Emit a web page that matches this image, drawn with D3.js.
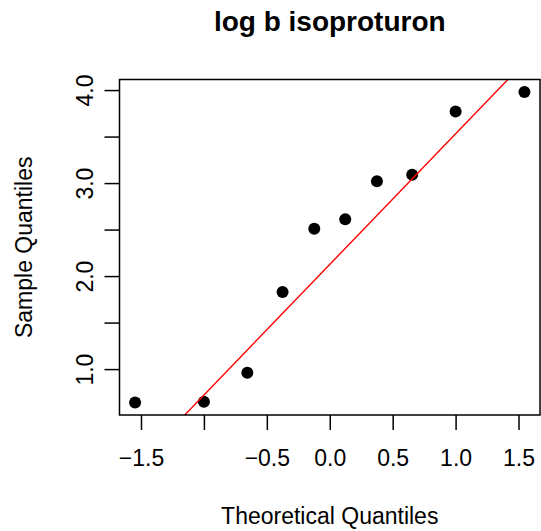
<!DOCTYPE html>
<html>
<head>
<meta charset="utf-8">
<script src="https://cdn.jsdelivr.net/npm/d3@7"></script>
<style>
  html, body { margin: 0; padding: 0; background: #fff; }
  svg text { font-family: "Liberation Sans", Arial, Helvetica, sans-serif; fill: #000; }
</style>
</head>
<body>
<svg id="chart" width="541" height="531"></svg>
<script>
// Data (normal Q-Q plot, n = 10)
const theoretical = [-1.547, -1.000, -0.655, -0.375, -0.123, 0.123, 0.375, 0.655, 1.000, 1.547];
const sample      = [0.64, 0.65, 0.96, 1.83, 2.51, 2.61, 3.02, 3.09, 3.77, 3.98];

const xTickValues = [-1.5, -1.0, -0.5, 0.0, 0.5, 1.0, 1.5];
const xTickLabels = ["\u22121.5", "", "\u22120.5", "0.0", "0.5", "1.0", "1.5"];
const yTickValues = [1.0, 1.5, 2.0, 2.5, 3.0, 3.5, 4.0];
const yTickLabels = ["1.0", "", "2.0", "", "3.0", "", "4.0"];

const titleText = "log b isoproturon";
const xLabelText = "Theoretical Quantiles";
const yLabelText = "Sample Quantiles";

const svg = d3.select("#chart");
const plot = { left: 119.5, right: 540, top: 79.5, bottom: 415 };

// R-style 4% range extension
function extend(ext) {
  const d = (ext[1] - ext[0]) * 0.04;
  return [ext[0] - d, ext[1] + d];
}
const x = d3.scaleLinear().domain(extend(d3.extent(theoretical))).range([plot.left, plot.right]);
const y = d3.scaleLinear().domain(extend(d3.extent(sample))).range([plot.bottom, plot.top]);

// qqline through the quartiles
const sorted = sample.slice().sort(d3.ascending);
const yq1 = d3.quantileSorted(sorted, 0.25), yq3 = d3.quantileSorted(sorted, 0.75);
const xq1 = -0.6744898, xq3 = 0.6744898;
const slope = (yq3 - yq1) / (xq3 - xq1);
const intercept = yq1 - slope * xq1;

// clip for the line
svg.append("clipPath").attr("id", "clip")
  .append("rect")
  .attr("x", plot.left).attr("y", plot.top)
  .attr("width", plot.right - plot.left).attr("height", plot.bottom - plot.top);

// points
svg.append("g").selectAll("circle")
  .data(theoretical.map((t, i) => ({ t, s: sample[i] })))
  .join("circle")
  .attr("cx", d => x(d.t))
  .attr("cy", d => y(d.s))
  .attr("r", 6)
  .attr("fill", "#000");

// reference line
const xd = x.domain();
svg.append("line")
  .attr("clip-path", "url(#clip)")
  .attr("x1", x(xd[0])).attr("y1", y(intercept + slope * xd[0]))
  .attr("x2", x(xd[1])).attr("y2", y(intercept + slope * xd[1]))
  .attr("stroke", "red").attr("stroke-width", 1.4);

// box
svg.append("rect")
  .attr("x", plot.left).attr("y", plot.top)
  .attr("width", plot.right - plot.left).attr("height", plot.bottom - plot.top)
  .attr("fill", "none").attr("stroke", "#000").attr("stroke-width", 1.5);

// x axis
const xAxis = d3.axisBottom(x)
  .tickValues(xTickValues)
  .tickSize(15)
  .tickPadding(20)
  .tickFormat((d, i) => xTickLabels[i]);
const gx = svg.append("g").attr("transform", `translate(0,${plot.bottom})`).call(xAxis);
gx.select(".domain").remove();
gx.selectAll(".tick line").attr("stroke", "#000").attr("stroke-width", 1.5);
gx.selectAll(".tick text").style("font-size", "23px").attr("fill", "#000");

// y axis
const yAxis = d3.axisLeft(y)
  .tickValues(yTickValues)
  .tickSize(15)
  .tickPadding(0)
  .tickFormat((d, i) => yTickLabels[i]);
const gy = svg.append("g").attr("transform", `translate(${plot.left},0)`).call(yAxis);
gy.select(".domain").remove();
gy.selectAll(".tick line").attr("stroke", "#000").attr("stroke-width", 1.5);
gy.selectAll(".tick text")
  .style("font-size", "23px")
  .attr("fill", "#000")
  .attr("x", null).attr("dy", null)
  .attr("text-anchor", "middle")
  .attr("transform", `translate(${-27},0) rotate(-90)`);

// title
svg.append("text")
  .attr("x", (plot.left + plot.right) / 2)
  .attr("y", 30.5)
  .attr("text-anchor", "middle")
  .style("font-size", "28px")
  .style("font-weight", "bold")
  .text(titleText);

// x label
svg.append("text")
  .attr("x", (plot.left + plot.right) / 2)
  .attr("y", 523.5)
  .attr("text-anchor", "middle")
  .style("font-size", "23px")
  .text(xLabelText);

// y label
svg.append("text")
  .attr("transform", `translate(32,${(plot.top + plot.bottom) / 2}) rotate(-90)`)
  .attr("text-anchor", "middle")
  .style("font-size", "23px")
  .text(yLabelText);
</script>
</body>
</html>
